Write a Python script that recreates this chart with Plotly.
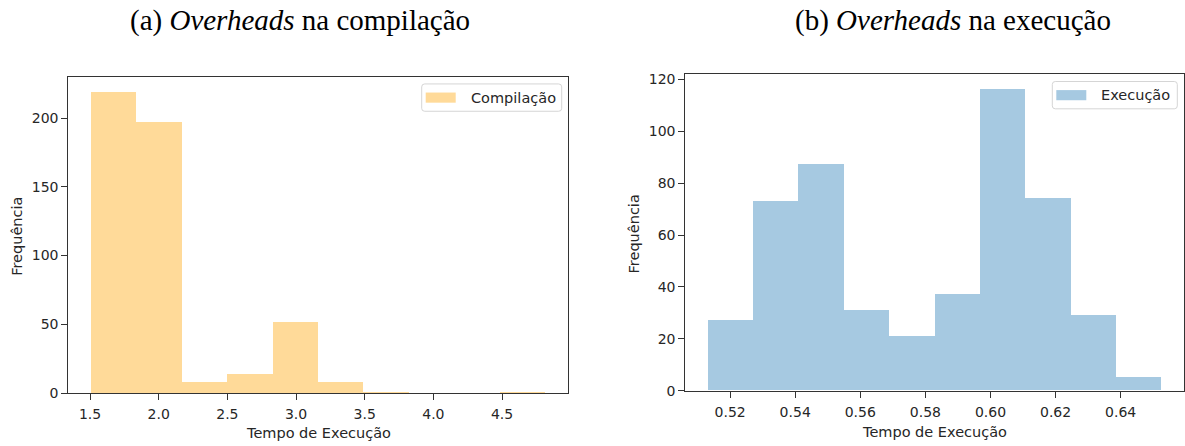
import plotly.graph_objects as go

W, H = 1185, 446

# (a) compilation overhead histogram: bin edges and counts
comp_edges = [1.507, 1.838, 2.169, 2.500, 2.831, 3.162, 3.493, 3.824, 4.155, 4.486, 4.817]
comp_counts = [219, 197, 8, 14, 52, 8, 1, 0, 0, 1]
comp_xticks = [1.5, 2.0, 2.5, 3.0, 3.5, 4.0, 4.5]
comp_xticklabels = ["1.5", "2.0", "2.5", "3.0", "3.5", "4.0", "4.5"]
comp_yticks = [0, 50, 100, 150, 200]

# (b) execution overhead histogram: bin edges and counts
exec_edges = [0.5132, 0.5271, 0.5411, 0.5550, 0.5689, 0.5829, 0.5968, 0.6107, 0.6247, 0.6386, 0.6525]
exec_counts = [27, 73, 87, 31, 21, 37, 116, 74, 29, 5]
exec_xticks = [0.52, 0.54, 0.56, 0.58, 0.60, 0.62, 0.64]
exec_xticklabels = ["0.52", "0.54", "0.56", "0.58", "0.60", "0.62", "0.64"]
exec_yticks = [0, 20, 40, 60, 80, 100, 120]

COMP_COLOR = "#FFDA99"
EXEC_COLOR = "#A6C9E1"
AXIS_COLOR = "#333333"
TEXT_COLOR = "#262626"
SANS = "DejaVu Sans"
SERIF = "Liberation Serif"


def px_x(x):
    return x / W


def px_y(y):
    return 1 - y / H


def centers_widths(edges):
    c = [(a + b) / 2 for a, b in zip(edges[:-1], edges[1:])]
    w = [b - a for a, b in zip(edges[:-1], edges[1:])]
    return c, w


def padded(lo, hi, frac=0.05):
    s = hi - lo
    return [lo - frac * s, hi + frac * s]


fig = go.Figure()

cx, cw = centers_widths(comp_edges)
fig.add_trace(go.Bar(x=cx, y=comp_counts, width=cw, name="Compilação",
                     marker=dict(color=COMP_COLOR, line=dict(width=0)),
                     xaxis="x", yaxis="y", showlegend=False))

ex, ew = centers_widths(exec_edges)
fig.add_trace(go.Bar(x=ex, y=exec_counts, width=ew, name="Execução",
                     marker=dict(color=EXEC_COLOR, line=dict(width=0)),
                     xaxis="x2", yaxis="y2", showlegend=False))

axis_common = dict(
    showline=True, mirror=True, linecolor=AXIS_COLOR, linewidth=1,
    ticks="outside", ticklen=6, tickwidth=1, tickcolor=AXIS_COLOR,
    tickfont=dict(family=SANS, size=14, color=TEXT_COLOR),
    showgrid=False, zeroline=False, fixedrange=True,
)
xaxis_extra = dict(ticklabelstandoff=2)

# plot areas in pixels: (left, right, top, bottom)
A = (68.3, 568.3, 75.7, 400.0)
B = (685.3, 1184.0, 73.3, 397.7)

fig.update_layout(
    width=W, height=H,
    margin=dict(l=0, r=0, t=0, b=0),
    paper_bgcolor="white", plot_bgcolor="white",
    bargap=0,
    xaxis=dict(axis_common, **xaxis_extra, domain=[px_x(A[0]), px_x(A[1])], anchor="y",
               range=padded(comp_edges[0], comp_edges[-1]),
               tickmode="array", tickvals=comp_xticks, ticktext=comp_xticklabels),
    yaxis=dict(axis_common, domain=[px_y(A[3]), px_y(A[2])], anchor="x",
               range=[0, max(comp_counts) * 1.05],
               tickmode="array", tickvals=comp_yticks),
    xaxis2=dict(axis_common, **xaxis_extra, domain=[px_x(B[0]), px_x(B[1])], anchor="y2",
                range=padded(exec_edges[0], exec_edges[-1]),
                tickmode="array", tickvals=exec_xticks, ticktext=exec_xticklabels),
    yaxis2=dict(axis_common, domain=[px_y(B[3]), px_y(B[2])], anchor="x2",
                range=[0, max(exec_counts) * 1.05],
                tickmode="array", tickvals=exec_yticks),
)

annotations = []
shapes = []


def text(x, y, s, size=14.5, family=SANS, angle=0, xanchor="center", color=TEXT_COLOR):
    annotations.append(dict(
        x=px_x(x), y=px_y(y), xref="paper", yref="paper", text=s,
        showarrow=False, textangle=angle, xanchor=xanchor, yanchor="middle",
        font=dict(family=family, size=size, color=color),
    ))


# panel titles
text(300, 18, "(a) <i>Overheads</i> na compilação", size=29, family=SERIF, color="black")
text(953, 18, "(b) <i>Overheads</i> na execução", size=29, family=SERIF, color="black")

# axis titles
text(16.7, 239, "Frequência", angle=-90)
text(633.6, 236.7, "Frequência", angle=-90)
text((A[0] + A[1]) / 2, 440.5, "Tempo de Execução")
text((B[0] + B[1]) / 2, 439.5, "Tempo de Execução")


def rounded_rect(x0, y0, x1, y1, r):
    X = px_x
    Y = px_y
    return (f"M{X(x0 + r)},{Y(y0)} L{X(x1 - r)},{Y(y0)} Q{X(x1)},{Y(y0)} {X(x1)},{Y(y0 + r)} "
            f"L{X(x1)},{Y(y1 - r)} Q{X(x1)},{Y(y1)} {X(x1 - r)},{Y(y1)} "
            f"L{X(x0 + r)},{Y(y1)} Q{X(x0)},{Y(y1)} {X(x0)},{Y(y1 - r)} "
            f"L{X(x0)},{Y(y0 + r)} Q{X(x0)},{Y(y0)} {X(x0 + r)},{Y(y0)} Z")


def legend(box, label, color):
    x0, y0, x1, y1 = box
    shapes.append(dict(type="path", xref="paper", yref="paper",
                       path=rounded_rect(x0, y0, x1, y1, 3),
                       line=dict(color="#D5D5D5", width=1), fillcolor="rgba(255,255,255,0.8)"))
    cy = (y0 + y1) / 2
    shapes.append(dict(type="rect", xref="paper", yref="paper",
                       x0=px_x(x0 + 4), x1=px_x(x0 + 34), y0=px_y(cy - 5.2), y1=px_y(cy + 5.2),
                       line=dict(width=0), fillcolor=color))
    text(x0 + 47, cy, label, size=14.5, xanchor="left")


legend((421.7, 83, 561.7, 111), "Compilação", COMP_COLOR)
legend((1052.3, 80.5, 1177.3, 108.5), "Execução", EXEC_COLOR)

fig.update_layout(annotations=annotations, shapes=shapes)

fig.write_html("out.html")
